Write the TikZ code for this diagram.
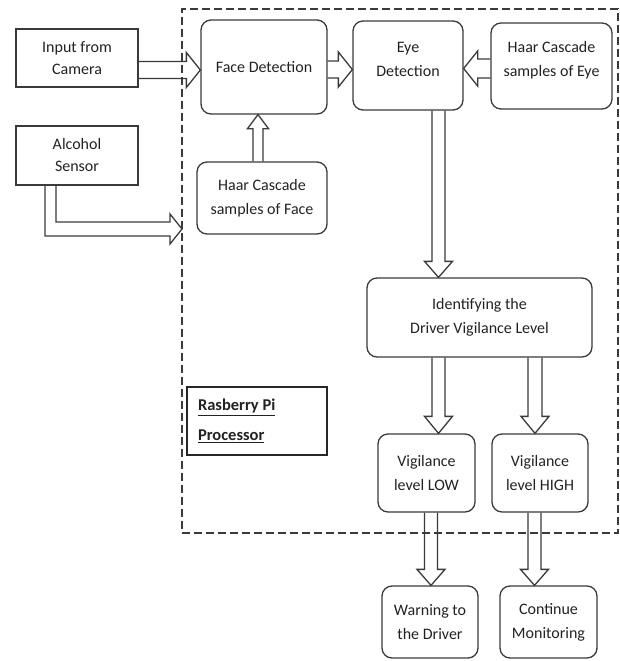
\documentclass[tikz,border=0pt]{standalone}
\usepackage{fontspec}
\setmainfont{Carlito}
\usetikzlibrary{calc}
\definecolor{ln}{HTML}{3A3A3A}
\definecolor{tx}{HTML}{222222}
\tikzset{
  base/.style={draw=ln, line width=1.3pt, text=tx, align=center, inner sep=0pt,
    font=\fontsize{16}{24}\selectfont},
  sqbox/.style={base, font=\fontsize{16}{22}\selectfont},
  rbox/.style={base, rounded corners=10pt},
  blk/.style={draw=ln, line width=1.3pt, line join=miter},
  cpubox/.style={draw=ln, line width=1.2pt, dash pattern=on 8pt off 4pt, inner sep=0pt},
  pibox/.style={draw=black!85, line width=2.2pt, text=tx, align=flush left, inner ysep=0pt,
    inner xsep=11pt, text width=118pt, font=\fontsize{16.5}{30}\selectfont\bfseries}
}
% block arrows: #1 start node anchor, #2 tip, #3 shaft half, #4 head half, #5 head length
\newcommand\arrR[5]{\draw[blk] let \p1=(#1),\p2=(#2) in
  (\x1,{\y2+#3}) -- ({\x2-#5},{\y2+#3}) -- ({\x2-#5},{\y2+#4}) -- (\x2,\y2)
  -- ({\x2-#5},{\y2-#4}) -- ({\x2-#5},{\y2-#3}) -- (\x1,{\y2-#3});}
\newcommand\arrL[5]{\draw[blk] let \p1=(#1),\p2=(#2) in
  (\x1,{\y2+#3}) -- ({\x2+#5},{\y2+#3}) -- ({\x2+#5},{\y2+#4}) -- (\x2,\y2)
  -- ({\x2+#5},{\y2-#4}) -- ({\x2+#5},{\y2-#3}) -- (\x1,{\y2-#3});}
\newcommand\arrD[5]{\draw[blk] let \p1=(#1),\p2=(#2) in
  ({\x2-#3},\y1) -- ({\x2-#3},{\y2+#5}) -- ({\x2-#4},{\y2+#5}) -- (\x2,\y2)
  -- ({\x2+#4},{\y2+#5}) -- ({\x2+#3},{\y2+#5}) -- ({\x2+#3},\y1);}
\newcommand\arrU[5]{\draw[blk] let \p1=(#1),\p2=(#2) in
  ({\x2-#3},\y1) -- ({\x2-#3},{\y2-#5}) -- ({\x2-#4},{\y2-#5}) -- (\x2,\y2)
  -- ({\x2+#4},{\y2-#5}) -- ({\x2+#3},{\y2-#5}) -- ({\x2+#3},\y1);}
\begin{document}
\begin{tikzpicture}[x=1pt, y=-1pt]
\useasboundingbox (0,0) rectangle (619,661);

% processor region
\node[cpubox, minimum width=436pt, minimum height=524pt] (cpu) at (400,271) {};

% nodes
\node[sqbox, minimum width=122pt, minimum height=58pt] (cam) at (77,58) {Input from\\Camera};
\node[sqbox, minimum width=122pt, minimum height=59pt] (alc) at (77,155.5) {Alcohol\\Sensor};
\node[rbox, minimum width=126pt, minimum height=94pt] (face) at (264,67) {Face Detection};
\node[rbox, minimum width=130pt, minimum height=72pt] (haarF) at (262,198) {Haar Cascade\\samples of Face};
\node[rbox, minimum width=110pt, minimum height=89pt, text depth=12pt] (eye) at (408,65.5) {Eye\\Detection};
\node[rbox, minimum width=121pt, minimum height=86pt, text depth=14pt] (haarE) at (551.5,66) {Haar Cascade\\samples of Eye};
\node[rbox, minimum width=225pt, minimum height=79pt] (ident) at (479.5,317.5) {Identifying the\\Driver Vigilance Level};
\node[rbox, minimum width=97pt, minimum height=78pt] (low) at (426.5,473) {Vigilance\\level LOW};
\node[rbox, minimum width=96pt, minimum height=78pt] (high) at (540,473) {Vigilance\\level HIGH};
\node[rbox, minimum width=96pt, minimum height=72pt] (warn) at (430,622) {Warning to\\the Driver};
\node[rbox, minimum width=97pt, minimum height=72pt] (cont) at (548.5,622) {Continue\\Monitoring};
\node[pibox, minimum height=68pt] (rpi) at (257,421) {\underline{Rasberry Pi}\\\underline{Processor}};

\coordinate (alcTip) at (182,229);

% block arrows
\arrR{cam.east}{$(face.west)+(0,3)$}{8.5pt}{17.5pt}{14pt}
\arrR{face.east}{$(eye.west)+(0,4)$}{8.5pt}{17.5pt}{14pt}
\arrL{haarE.west}{$(eye.east)+(0,3)$}{9.5pt}{17.5pt}{14pt}
\arrU{haarF.north}{$(face.south)+(-6,0)$}{5pt}{10.5pt}{14pt}
\arrD{eye.south}{$(ident.north)+(-41,0)$}{6.5pt}{14pt}{16pt}
\arrD{ident.south}{$(low.north)+(12,0)$}{6.5pt}{14pt}{17pt}
\arrD{ident.south}{$(high.north)+(-5,0)$}{7pt}{14pt}{17pt}
\arrD{low.south}{$(warn.north)+(1,0)$}{6.5pt}{14pt}{16pt}
\arrD{high.south}{$(cont.north)+(-14,0)$}{6.5pt}{14pt}{16pt}
\draw[blk] let \p1=(alc.south), \p2=(alcTip) in
  ({\x1-32pt},\y1) -- ({\x1-32pt},{\y2-7pt}) -- ({\x2-12pt},{\y2-7pt})
  -- ({\x2-12pt},{\y2-15pt}) -- (\x2,\y2) -- ({\x2-12pt},{\y2+15pt})
  -- ({\x2-12pt},{\y2+7pt}) -- ({\x1-21pt},{\y2+7pt}) -- ({\x1-21pt},\y1);
\end{tikzpicture}
\end{document}
